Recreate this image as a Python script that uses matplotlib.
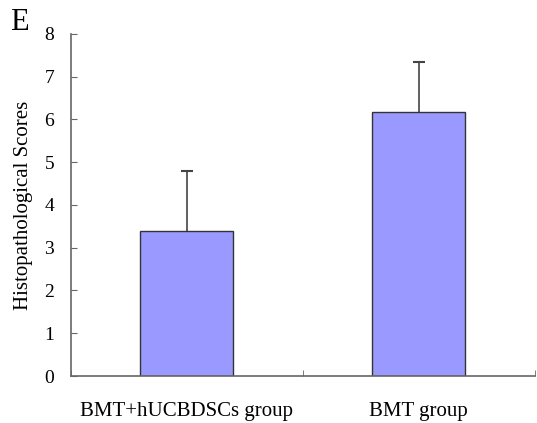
import numpy as np
import matplotlib
matplotlib.use("Agg")
import matplotlib.pyplot as plt

# Data
groups = ["BMT+hUCBDSCs group", "BMT group"]
scores = [3.38, 6.18]
errors = [1.42, 1.16]
y_ticks = [0, 1, 2, 3, 4, 5, 6, 7, 8]

plt.rcParams["font.family"] = ["Liberation Serif", "DejaVu Serif"]

fig = plt.figure(figsize=(5.37, 4.23), dpi=100)
ax = fig.add_axes([0.132, 0.111, 0.864, 0.809])

x = np.arange(len(groups))
ax.bar(x, scores, width=0.4, color="#9999FF", edgecolor="#333333", linewidth=1.0, zorder=2)
# upper error bars only
eb = ax.errorbar(x, scores, yerr=[np.zeros(len(errors)), errors], fmt="none",
                 ecolor="#444444", elinewidth=1.2, capsize=4, capthick=1.5, zorder=1)
eb[1][0].set_visible(False)

ax.set_xlim(-0.5, len(groups) - 0.5)
ax.set_ylim(0, 8)
ax.set_yticks(y_ticks)
ax.set_xticks(x)
ax.set_xticklabels(groups, fontsize=15)
ax.set_xticks(np.arange(len(groups) + 1) - 0.5, minor=True)
ax.tick_params(axis="x", which="major", length=0, pad=19)
ax.tick_params(axis="x", which="minor", direction="in", length=4, color="#666666")
ax.tick_params(axis="y", direction="in", length=4, color="#666666", labelsize=14, pad=12)
ax.set_ylabel("Histopathological Scores", fontsize=15, labelpad=8)

for side in ["top", "right"]:
    ax.spines[side].set_visible(False)
for side in ["left", "bottom"]:
    ax.spines[side].set_color("#666666")
    ax.spines[side].set_linewidth(1.2)

fig.text(0.018, 0.98, "E", fontsize=22, ha="left", va="top")

fig.savefig("out.png", dpi=100)
